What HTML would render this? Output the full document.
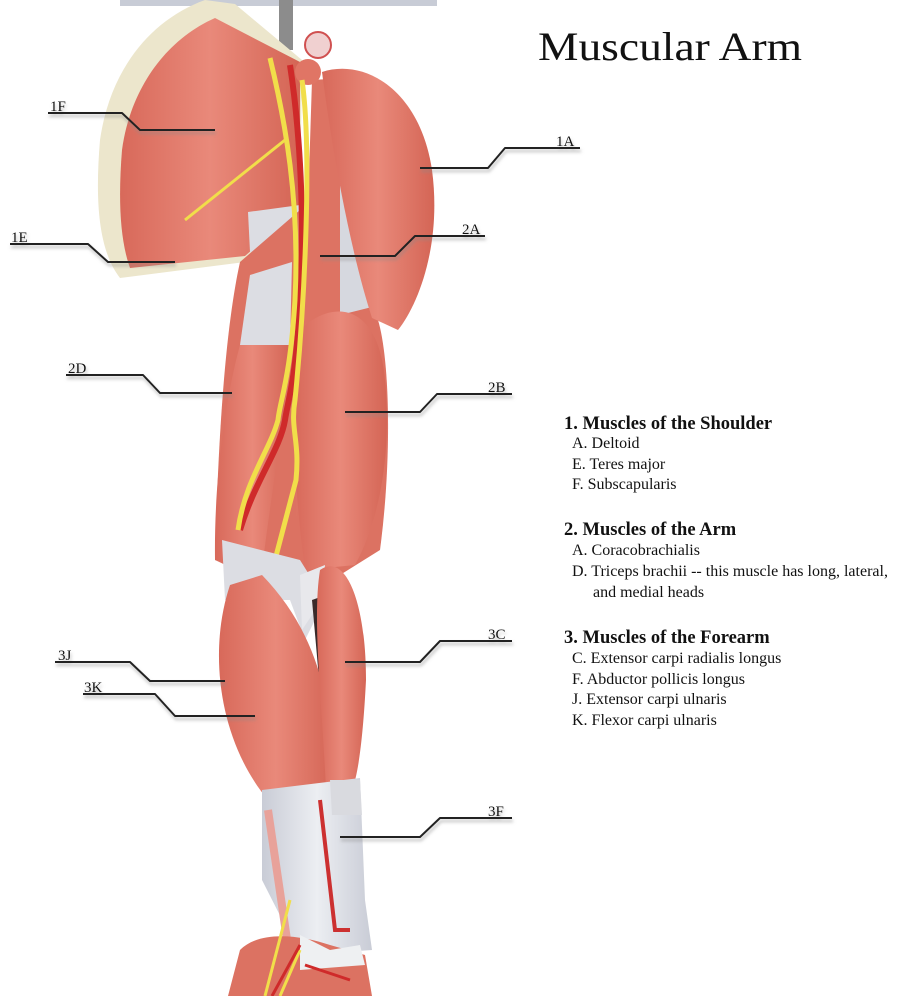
<!DOCTYPE html>
<html><head><meta charset="utf-8"><style>
html,body{margin:0;padding:0;background:#fff;}
svg{display:block;}
text{font-family:"Liberation Serif",serif;fill:#111;}
</style></head><body>
<svg width="919" height="996" viewBox="0 0 919 996" xmlns="http://www.w3.org/2000/svg">
<defs>
<linearGradient id="mg" x1="0" x2="1" y1="0" y2="0">
<stop offset="0" stop-color="#d8695a"/><stop offset="0.5" stop-color="#e9897a"/><stop offset="1" stop-color="#d46555"/>
</linearGradient>
<linearGradient id="tg" x1="0" x2="1"><stop offset="0" stop-color="#c9ccd6"/><stop offset="0.5" stop-color="#eceef2"/><stop offset="1" stop-color="#c9ccd6"/></linearGradient>
<filter id="sh" x="-5%" y="-50%" width="110%" height="200%"><feDropShadow dx="1" dy="3" stdDeviation="1.5" flood-color="#888" flood-opacity="0.6"/></filter>
</defs>
<rect x="120" y="0" width="317" height="6" fill="#c8ccd6"/>
<rect x="279" y="0" width="14" height="50" fill="#8c8c8c"/>
<path d="M205,0 C150,20 110,70 100,140 C95,200 98,250 120,278 L245,262 L300,212 L302,60 L235,4 Z" fill="#ece6cc"/>
<path d="M215,18 C165,40 130,90 122,150 C118,200 120,240 130,268 L245,256 L300,208 L300,62 Z" fill="url(#mg)"/>
<path d="M248,212 L300,205 L300,260 L250,252 Z" fill="#dcdde3"/>
<path d="M240,262 C225,330 218,440 215,560 L300,600 L380,550 C392,460 390,360 378,320 L300,210 Z" fill="#dc7262"/>
<path d="M250,275 L292,262 L290,345 L240,345 Z" fill="#dcdde3"/>
<path d="M240,345 L290,345 C285,420 270,500 262,570 L215,560 C214,480 225,400 240,345 Z" fill="url(#mg)"/>
<path d="M312,80 L345,78 L348,300 C335,380 310,460 296,520 L292,420 L305,300 Z" fill="#dd7363"/>
<path d="M340,180 L372,190 L380,305 L340,315 Z" fill="#d6d8df"/>
<path d="M300,330 C330,300 378,300 385,380 C392,450 380,520 355,565 L305,570 C294,490 290,400 300,330 Z" fill="url(#mg)"/>
<path d="M322,72 C365,58 420,90 432,170 C442,245 418,305 398,330 L372,318 C350,250 332,150 322,72 Z" fill="url(#mg)"/>
<circle cx="318" cy="45" r="13" fill="#f0d0d0" stroke="#d05050" stroke-width="2"/>
<circle cx="308" cy="72" r="13" fill="#e07565"/>
<path d="M290,65 C300,130 305,220 300,300 C296,380 288,400 285,420 C280,450 255,480 240,530" fill="none" stroke="#cf2a2a" stroke-width="6"/>
<path d="M270,58 C285,120 300,200 295,300 C290,380 280,400 278,420 C270,450 245,480 238,530" fill="none" stroke="#f1de4a" stroke-width="5"/>
<path d="M302,80 C312,150 305,300 295,400 C290,430 300,440 296,480 L275,560" fill="none" stroke="#f1de4a" stroke-width="5"/>
<path d="M285,140 L185,220" stroke="#f1de4a" stroke-width="3"/>
<path d="M222,540 L300,560 L325,600 L305,640 L290,600 L225,600 Z" fill="#dcdde3"/>
<path d="M300,575 L325,565 L322,600 L302,630 Z" fill="#e8e8ec"/>
<path d="M312,600 L340,590 L330,650 L320,690 Z" fill="#3a2a2a"/>
<path d="M230,585 C208,650 218,740 268,800 L332,800 C335,720 325,640 262,575 Z" fill="url(#mg)"/>
<path d="M320,570 C345,552 366,600 366,680 C363,740 358,775 352,790 L326,790 C322,700 312,620 320,570 Z" fill="url(#mg)"/>
<path d="M262,790 L360,778 L365,900 L372,950 L300,955 L262,880 Z" fill="url(#tg)"/>
<path d="M330,780 L360,780 L362,815 L332,815 Z" fill="#d9dadf"/>
<path d="M320,800 L335,930 L350,930" fill="none" stroke="#cc3030" stroke-width="4"/>
<path d="M268,810 L290,960" stroke="#e8a29a" stroke-width="8"/>
<path d="M240,950 C260,930 300,935 330,945 L365,955 L372,996 L228,996 Z" fill="#dc7262"/>
<path d="M300,935 L330,950 L360,945 L365,965 L300,970 Z" fill="#eef0f2"/>
<path d="M290,900 L265,996 M300,950 L280,996" stroke="#f1de4a" stroke-width="3"/>
<path d="M300,945 L272,996 M305,965 L350,980" stroke="#cf2a2a" stroke-width="3"/>

<text x="538" y="60" font-size="40" textLength="264" lengthAdjust="spacingAndGlyphs">Muscular Arm</text>

<g font-size="15" filter="url(#sh)" stroke-linejoin="round">
<g fill="none" stroke="#222" stroke-width="2">
<polyline points="48,113 122,113 140,130 215,130"/>
<polyline points="10,244 88,244 108,262 175,262"/>
<polyline points="580,148 505,148 488,168 420,168"/>
<polyline points="485,236 415,236 395,256 320,256"/>
<polyline points="66,375 143,375 160,393 232,393"/>
<polyline points="512,394 437,394 420,412 345,412"/>
<polyline points="512,641 440,641 420,662 345,662"/>
<polyline points="55,662 130,662 150,681 225,681"/>
<polyline points="83,694 155,694 175,716 255,716"/>
<polyline points="512,818 440,818 420,837 340,837"/>
</g>
<text x="50" y="111">1F</text>
<text x="11" y="242">1E</text>
<text x="556" y="146">1A</text>
<text x="462" y="234">2A</text>
<text x="68" y="373">2D</text>
<text x="488" y="392">2B</text>
<text x="488" y="639">3C</text>
<text x="58" y="660">3J</text>
<text x="84" y="692">3K</text>
<text x="488" y="816">3F</text>
</g>

<g font-size="18.5" font-weight="bold">
<text x="564" y="429">1. Muscles of the Shoulder</text>
<text x="564" y="535">2. Muscles of the Arm</text>
<text x="564" y="643">3. Muscles of the Forearm</text>
</g>
<g font-size="16">
<text x="572" y="448">A. Deltoid</text>
<text x="572" y="469">E. Teres major</text>
<text x="572" y="489">F. Subscapularis</text>
<text x="572" y="555">A. Coracobrachialis</text>
<text x="572" y="576">D. Triceps brachii -- this muscle has long, lateral,</text>
<text x="593" y="597">and medial heads</text>
<text x="572" y="663">C. Extensor carpi radialis longus</text>
<text x="572" y="684">F. Abductor pollicis longus</text>
<text x="572" y="704">J. Extensor carpi ulnaris</text>
<text x="572" y="725">K. Flexor carpi ulnaris</text>
</g>
</svg>
</body></html>
